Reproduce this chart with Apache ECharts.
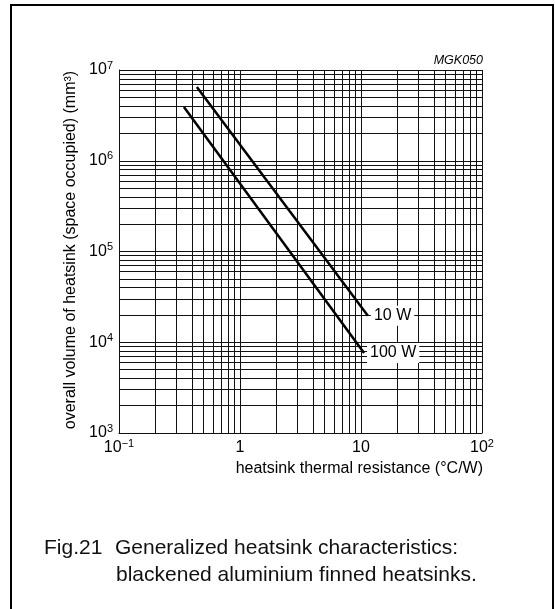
<!DOCTYPE html>
<html>
<head>
<meta charset="utf-8">
<script src="https://cdn.jsdelivr.net/npm/echarts@6/dist/echarts.min.js"></script>
<style>
  html, body { margin: 0; padding: 0; background: #fff; }
  #chart { width: 555px; height: 609px; }
</style>
</head>
<body>
<div id="chart"></div>
<script>
// thermal resistance (°C/W) vs heatsink volume (mm3)
const resistance10W = [0.44, 11.4];
const volume10W = [6.5e6, 1.96e4];
const resistance100W = [0.344, 10.6];
const volume100W = [3.9e6, 7.6e3];

const xTicks = [0.1, 1, 10, 100];
const xTickLabels = ['{b|10}{s|−1}', '{b|1}', '{b|10}', '{b|10}{s|2}'];
const yTicks = [1e3, 1e4, 1e5, 1e6, 1e7];
const yTickLabels = ['{b|10}{s|3}', '{b|10}{s|4}', '{b|10}{s|5}', '{b|10}{s|6}', '{b|10}{s|7}'];

const FONT = 'Liberation Sans, Arial, sans-serif';

// full log grid: 1..9 in every decade
const xGrid = [];
[0.1, 1, 10].forEach(d => { for (let m = 1; m <= 9; m++) xGrid.push(m * d); });
xGrid.push(100);
const yGrid = [];
[1e3, 1e4, 1e5, 1e6].forEach(d => { for (let m = 1; m <= 9; m++) yGrid.push(m * d); });
yGrid.push(1e7);

function tickLabel(ticks, labels) {
  return function (v) {
    const i = ticks.findIndex(t => Math.abs(Math.log10(t) - Math.log10(v)) < 1e-6);
    return i >= 0 ? labels[i] : '';
  };
}

const richLabel = {
  b: { fontSize: 16, lineHeight: 20, fontFamily: FONT, color: '#000' },
  s: { fontSize: 11, lineHeight: 10, verticalAlign: 'top', fontFamily: FONT, color: '#000' }
};

function pairs(xs, ys) {
  return xs.map((x, i) => [x, ys[i]]);
}

const endLabel = {
  show: true,
  formatter: '{a}',
  distance: 3,
  fontSize: 16,
  fontFamily: FONT,
  color: '#000',
  backgroundColor: '#fff',
  padding: [2, 3]
};

const chart = echarts.init(document.getElementById('chart'));
chart.setOption({
  animation: false,
  backgroundColor: '#fff',
  grid: { left: 119, right: 73, top: 70, bottom: 176 },
  xAxis: {
    type: 'log',
    logBase: 10,
    min: 0.1,
    max: 100,
    axisLine: { show: true, lineStyle: { color: '#000', width: 1 } },
    axisTick: { show: false },
    splitLine: { show: false },
    axisLabel: {
      margin: 5,
      fontSize: 16,
      fontFamily: FONT,
      color: '#000',
      formatter: tickLabel(xTicks, xTickLabels),
      rich: richLabel
    }
  },
  yAxis: {
    type: 'log',
    logBase: 10,
    min: 1e3,
    max: 1e7,
    axisLine: { show: true, lineStyle: { color: '#000', width: 1 } },
    axisTick: { show: false },
    splitLine: { show: false },
    axisLabel: {
      margin: 6,
      fontSize: 16,
      fontFamily: FONT,
      color: '#000',
      formatter: tickLabel(yTicks, yTickLabels),
      rich: richLabel
    }
  },
  series: [
    {
      name: 'grid',
      type: 'line',
      data: [],
      z: 1,
      silent: true,
      markLine: {
        z: 1,
        silent: true,
        symbol: ['none', 'none'],
        label: { show: false },
        lineStyle: { type: 'solid', color: '#111', width: 1 },
        data: xGrid.map(v => ({ xAxis: v })).concat(yGrid.map(v => ({ yAxis: v })))
      }
    },
    {
      name: '10 W',
      type: 'line',
      z: 3,
      showSymbol: false,
      data: pairs(resistance10W, volume10W),
      lineStyle: { color: '#000', width: 2.5 },
      endLabel: endLabel
    },
    {
      name: '100 W',
      type: 'line',
      z: 3,
      showSymbol: false,
      data: pairs(resistance100W, volume100W),
      lineStyle: { color: '#000', width: 2.5 },
      endLabel: endLabel
    }
  ],
  graphic: [
    {
      type: 'rect',
      shape: { x: 11, y: 5, width: 542, height: 640 },
      style: { fill: 'none', stroke: '#000', lineWidth: 2 }
    },
    {
      type: 'text', x: 483, y: 61,
      style: { text: 'MGK050', font: 'italic 12.5px ' + FONT, fill: '#000', align: 'right', verticalAlign: 'middle' }
    },
    {
      type: 'text', x: 483, y: 469,
      style: { text: 'heatsink thermal resistance (°C/W)', font: '16px ' + FONT, fill: '#000', align: 'right', verticalAlign: 'middle' }
    },
    {
      type: 'text', x: 71, y: 250, rotation: Math.PI / 2,
      style: { text: 'overall volume of heatsink (space occupied) (mm³)', font: '16px ' + FONT, fill: '#000', align: 'center', verticalAlign: 'middle' }
    },
    {
      type: 'text', x: 44, y: 548,
      style: { text: 'Fig.21', font: '21px ' + FONT, fill: '#111', align: 'left', verticalAlign: 'middle' }
    },
    {
      type: 'text', x: 115, y: 548,
      style: { text: 'Generalized heatsink characteristics:', font: '21px ' + FONT, fill: '#111', align: 'left', verticalAlign: 'middle' }
    },
    {
      type: 'text', x: 116, y: 575,
      style: { text: 'blackened aluminium finned heatsinks.', font: '21px ' + FONT, fill: '#111', align: 'left', verticalAlign: 'middle' }
    }
  ]
});
</script>
</body>
</html>
